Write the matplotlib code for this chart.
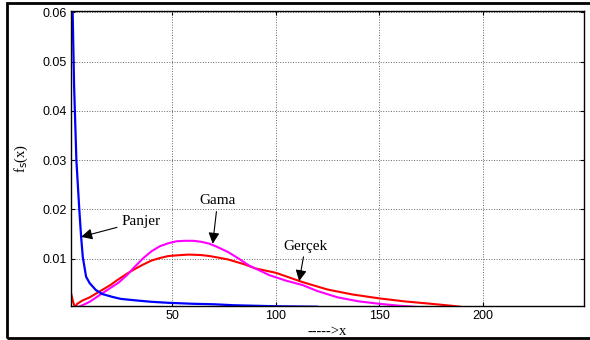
import matplotlib.pyplot as plt
from matplotlib.patches import Rectangle

# Panjer approximation
panjer_x = [1, 1.8, 2.5, 3.6, 5, 5.9, 6.7, 8.3, 10, 13, 16, 21, 25, 32, 40, 48, 60, 70, 80, 100, 120]
panjer_y = [0.075, 0.06, 0.045, 0.03, 0.02, 0.0144, 0.0103, 0.0063, 0.0050, 0.0036, 0.0028,
            0.0022, 0.0018, 0.0015, 0.0012, 0.0010, 0.0008, 0.0007, 0.0005, 0.0003, 0.0002]

# Gamma approximation
gama_x = [3.5, 6, 10, 16, 20, 24, 28, 32, 36, 40, 44, 48, 52, 56, 60, 64, 68, 72, 77,
          82, 87, 92, 97, 105, 113, 120, 130, 140, 150, 160, 170]
gama_y = [0.0, 0.0004, 0.0012, 0.0029, 0.0040, 0.0051, 0.0066, 0.0084, 0.0101, 0.0115,
          0.0125, 0.0131, 0.0135, 0.0136, 0.0136, 0.0134, 0.0130, 0.0123, 0.0113, 0.0100,
          0.0086, 0.0076, 0.0066, 0.0055, 0.0046, 0.0034, 0.0021, 0.0013, 0.0008, 0.0004,
          0.0001]

# actual distribution
gercek_x = [1, 2, 3, 4, 6.7, 10, 16, 20, 24, 28, 32, 36, 40, 44, 48, 54, 58, 64, 68, 72,
            77, 85, 90, 100, 113, 125, 137, 150, 162, 175, 185, 193]
gercek_y = [0.0030, 0.0012, 0.0, 0.0008, 0.0015, 0.0021, 0.0036, 0.0046, 0.0058, 0.0069,
            0.0079, 0.0088, 0.0096, 0.0101, 0.0105, 0.0107, 0.0108, 0.0107, 0.0105, 0.0102,
            0.0098, 0.0088, 0.0080, 0.0071, 0.0052, 0.0037, 0.0027, 0.0019, 0.0013, 0.0008,
            0.0004, 0.0]

x_ticks = [50, 100, 150, 200]
y_ticks = [0.01, 0.02, 0.03, 0.04, 0.05, 0.06]

fig = plt.figure(figsize=(5.9, 3.4), dpi=100)
ax = fig.add_axes([71 / 590, 1 - 306 / 340, 513 / 590, 295 / 340])

ax.plot(gercek_x, gercek_y, color='#ff0000', lw=1.5)
ax.plot(gama_x, gama_y, color='#ff00ff', lw=1.5)
ax.plot(panjer_x, panjer_y, color='#0000ff', lw=1.6)

ax.set_xlim(1, 249)
ax.set_ylim(0.00035, 0.0603)
ax.set_xticks(x_ticks)
ax.set_yticks(y_ticks)
ax.set_xticklabels([str(t) for t in x_ticks])
ax.set_yticklabels(['%.2f' % t for t in y_ticks])
ax.tick_params(direction='in', length=3, width=0.8, top=True, right=True,
               labelsize=9, pad=3)
for lab in ax.get_xticklabels() + ax.get_yticklabels():
    lab.set_family('Liberation Sans')
ax.grid(True, color='0.4', linestyle=':', lw=0.7)
for s in ax.spines.values():
    s.set_linewidth(1.0)

serif = 'Liberation Serif'
ax.set_xlabel('----->x', family=serif, fontsize=10.5, labelpad=2)
ax.set_ylabel(r'f$_{\mathrm{s}}$(x)', family=serif, fontsize=10.5, labelpad=9)

arrow = dict(arrowstyle='-|>,head_length=0.6,head_width=0.3', color='black', lw=0.8,
             mutation_scale=11, shrinkA=1, shrinkB=0)
ax.annotate('Panjer', xy=(5.9, 0.0144), xytext=(25.2, 0.0176), family=serif, fontsize=11,
            ha='left', va='center', arrowprops=arrow)
ax.annotate('Gama', xy=(69.5, 0.0130), xytext=(71.9, 0.0217), family=serif, fontsize=11,
            ha='center', va='center', arrowprops=arrow)
ax.annotate('Gerçek', xy=(111.3, 0.0054), xytext=(114.3, 0.0125), family=serif, fontsize=11,
            ha='center', va='center', arrowprops=arrow)

# frame round the whole figure
fig.add_artist(Rectangle((7 / 590, 2 / 340), 1.0, 335 / 340, transform=fig.transFigure,
                         fill=False, edgecolor='black', lw=2.0))

fig.savefig('out.png', dpi=100)
